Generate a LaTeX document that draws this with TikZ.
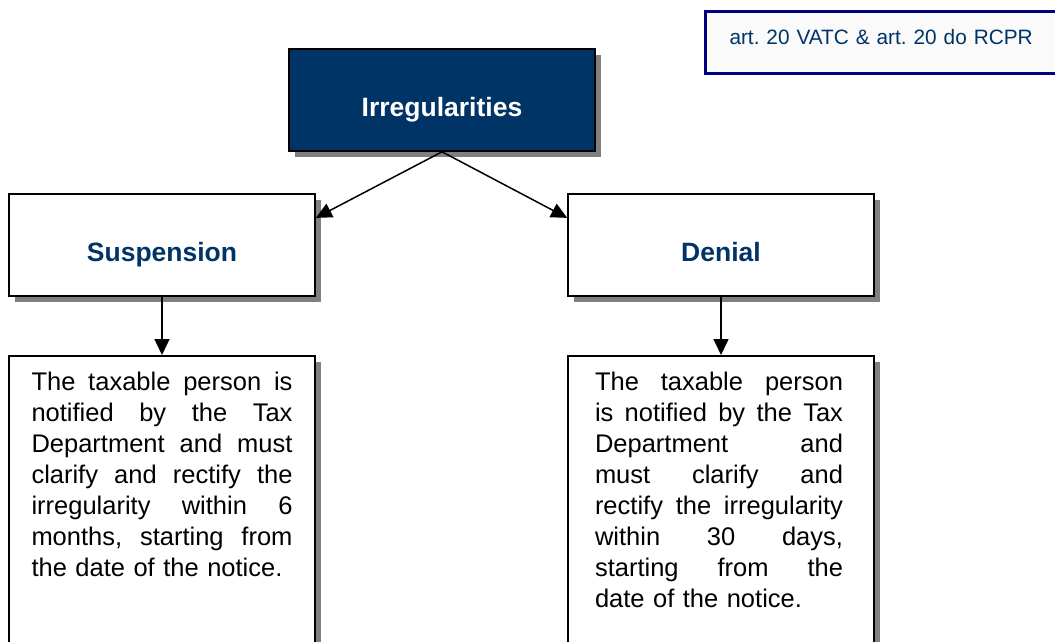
\documentclass[tikz,border=0pt]{standalone}
\usepackage{fontspec}
\setmainfont{Liberation Sans}
\usepackage{tikz}
\usetikzlibrary{arrows.meta}
\usetikzlibrary{shadows}

\definecolor{deepnavy}{RGB}{0,51,102}
\definecolor{rimnavy}{RGB}{0,0,128}

\newcommand{\fillrow}[2][261pt]{\makebox[#1][s]{\spaceskip=0pt\xspaceskip=0pt\relax #2}}
\frenchspacing

\begin{document}
\begin{tikzpicture}[x=1pt, y=-1pt,
		boxshadow/.style={drop shadow={shadow xshift=6pt, shadow yshift=-6pt, fill=black!50, opacity=1}},
		headbox/.style={draw=black, line width=1.6pt, minimum width=306pt, minimum height=102pt, inner sep=0pt, text height=33pt, text depth=0pt, font=\fontsize{26.5}{28}\selectfont\bfseries, boxshadow},
		notebox/.style={draw=black, line width=1.6pt, fill=white, minimum width=306pt, text width=261pt, inner xsep=0pt, inner ysep=16pt, text height=19pt, text depth=320pt, align=left, font=\fontsize{25.5}{31}\selectfont, boxshadow},
		refbox/.style={draw=rimnavy, line width=3pt, fill=black!2, minimum height=62pt, text width=330pt, inner xsep=24pt, inner ysep=0pt, align=left, text height=15pt, text depth=11pt, font=\fontsize{20.8}{24}\selectfont, text=deepnavy},
		link/.style={line width=1.5pt, -{Triangle[length=16pt, width=15pt]}}]
		\useasboundingbox (0,0) rectangle (1055,642);
		\clip (0,0) rectangle (1055,642);
		\node[refbox, anchor=north west] (artref) at (704,10) {art. 20 VATC \& art. 20 do RCPR};
		\node[headbox, fill=deepnavy, text=white] (irreg) at (442,100) {Irregularities};
		\node[headbox, fill=white, text=deepnavy] (susp) at (162,245) {Suspension};
		\node[headbox, fill=white, text=deepnavy] (deny) at (721,245) {Denial};
		\node[notebox, anchor=north] (susptext) at (162,355) {%
			\fillrow{The taxable person is}\\
			\fillrow{notified by the Tax}\\
			\fillrow{Department and must}\\
			\fillrow{clarify and rectify the}\\
			\fillrow{irregularity within 6}\\
			\fillrow{months, starting from}\\
			the date of the notice.};
		\node[notebox, anchor=north, text width=252pt] (denytext) at (721,355) {%
			\fillrow[248pt]{The taxable person}\\
			\fillrow[248pt]{is notified by the Tax}\\
			\fillrow[248pt]{Department and}\\
			\fillrow[248pt]{must clarify and}\\
			\fillrow[248pt]{rectify the irregularity}\\
			\fillrow[248pt]{within 30 days,}\\
			\fillrow[248pt]{starting from the}\\
			date of the notice.};
		\draw[link] (irreg.south) -- (susp.10);
		\draw[link] (irreg.south) -- (deny.170);
		\draw[link] (susp.south) -- (susptext.north);
		\draw[link] (deny.south) -- (denytext.north);
	\end{tikzpicture}
\end{document}
